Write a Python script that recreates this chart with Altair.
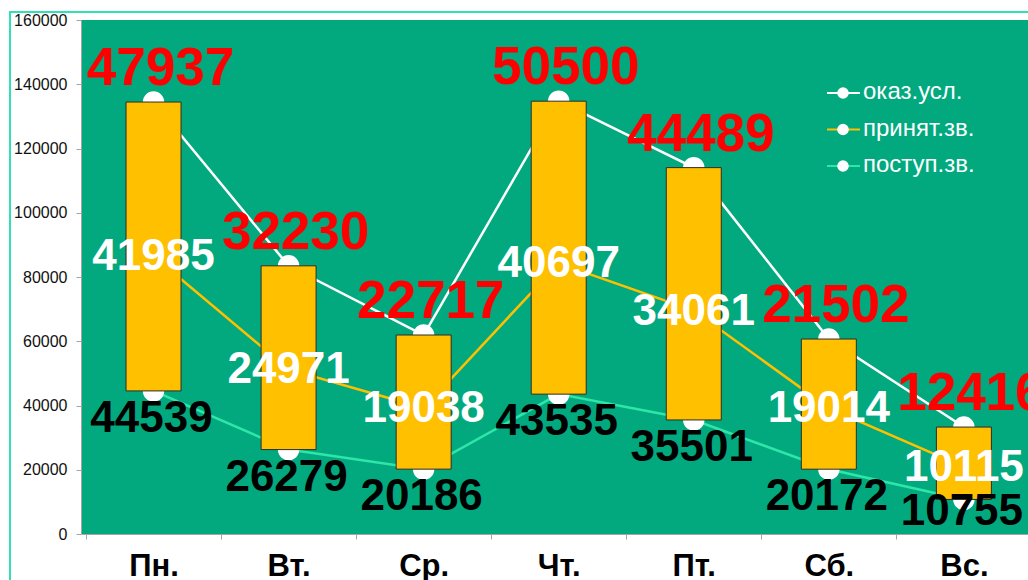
import altair as alt
import pandas as pd

FONT = "Liberation Sans"

days = ["Пн.", "Вт.", "Ср.", "Чт.", "Пт.", "Сб.", "Вс."]
series_names = ["оказ.усл.", "принят.зв.", "поступ.зв."]
series_colors = ["#FFFFFF", "#FFC000", "#2EE6A8"]

# Daily counts; the series are stacked bottom-up: поступ.зв., принят.зв., оказ.усл.
postup_zv = [44539, 26279, 20186, 43535, 35501, 20172, 10755]
prinyat_zv = [41985, 24971, 19038, 40697, 34061, 19014, 10115]
okaz_usl = [47937, 32230, 22717, 50500, 44489, 21502, 12416]

y_ticks = [0, 20000, 40000, 60000, 80000, 100000, 120000, 140000, 160000]

# Lowest level a bottom-series label is anchored at, so it stays above the axis
LABEL_FLOOR = 15500

# Long table with the running (stacked) level of every series
rows = []
for i, day in enumerate(days):
    running = 0
    for name, vals in [("поступ.зв.", postup_zv), ("принят.зв.", prinyat_zv), ("оказ.усл.", okaz_usl)]:
        running += vals[i]
        rows.append({"idx": i, "day": day, "series": name, "value": vals[i], "level": running})
long_df = pd.DataFrame(rows)

bottom = long_df[long_df.series == "поступ.зв."].set_index("idx")["level"]
top = long_df[long_df.series == "оказ.усл."].set_index("idx")["level"]
bars_df = pd.DataFrame({"idx": bottom.index, "low": bottom.values, "high": top.values})

# Plot area is 947 px wide, each day slot is 136.5 px; the last slot runs off the page
PLOT_W, PLOT_H = 947, 514
SLOT = 136.5
x_max = -0.5 + PLOT_W / SLOT

x_vals = sorted([i - 0.5 for i in range(len(days))] + list(range(len(days))))
day_array = "[" + ",".join(f"'{d}'" for d in days) + "]"

x_axis = alt.Axis(
    values=x_vals,
    labelExpr=f"datum.value % 1 === 0 ? {day_array}[datum.value] : ''",
    tickColor={"condition": {"test": "datum.value % 1 === 0", "value": "transparent"}, "value": "#A6A6A6"},
    grid=False,
    domainColor="#A6A6A6",
    tickSize=5,
    labelFont=FONT,
    labelFontSize=31,
    labelFontWeight="bold",
    labelColor="#000000",
    labelPadding=12,
    labelFlush=False,
    labelOverlap=False,
    title=None,
)
y_axis = alt.Axis(
    values=y_ticks,
    format="d",
    grid=False,
    domainColor="#A6A6A6",
    tickColor="#A6A6A6",
    tickSize=5,
    labelFont=FONT,
    labelFontSize=16,
    labelColor="#111111",
    labelPadding=9,
    title=None,
)

x_enc = alt.X("idx:Q", scale=alt.Scale(domain=[-0.5, x_max], nice=False, zero=False), axis=x_axis)
y_scale = alt.Scale(domain=[0, 160000], nice=False, zero=True)

base = alt.Chart(long_df)

lines = base.mark_line(strokeWidth=2.5).encode(
    x=x_enc,
    y=alt.Y("level:Q", scale=y_scale, axis=y_axis),
    color=alt.Color("series:N", scale=alt.Scale(domain=series_names, range=series_colors), legend=None),
)

points = base.mark_circle(size=460, color="#FFFFFF", opacity=1).encode(
    x=x_enc,
    y=alt.Y("level:Q", scale=y_scale, axis=y_axis),
)

bars = alt.Chart(bars_df).mark_bar(size=55, color="#FFC000", stroke="#2B2B2B", strokeWidth=1).encode(
    x=x_enc,
    y=alt.Y("low:Q", scale=y_scale, axis=y_axis),
    y2="high:Q",
)


def value_labels(name, color, size, dx, dy, floor=0):
    return base.transform_filter(alt.datum.series == name).transform_calculate(
        anchor=f"max(datum.level, {floor})"
    ).mark_text(
        font=FONT, fontSize=size, fontWeight="bold", color=color,
        align="center", baseline="middle", dx=dx, dy=dy,
    ).encode(
        x=x_enc,
        y=alt.Y("anchor:Q", scale=y_scale, axis=y_axis),
        text=alt.Text("value:Q", format="d"),
    )


red_labels = value_labels("оказ.усл.", "#FF0000", 53, 7, -33)
white_labels = value_labels("принят.зв.", "#FFFFFF", 44, 0, 1)
black_labels = value_labels("поступ.зв.", "#000000", 44, -2, 28, LABEL_FLOOR)

main = alt.layer(lines, points, bars, red_labels, white_labels, black_labels)

# Legend drawn inside the plot, top right
legend_df = pd.DataFrame({"series": series_names})
leg_y = alt.Y("series:N", scale=alt.Scale(type="point", domain=series_names, range=[73, 146], padding=0), axis=None)
leg_base = alt.Chart(legend_df)
leg_line = leg_base.mark_rule(strokeWidth=2).encode(
    x=alt.value(746), x2=alt.value(779), y=leg_y,
    color=alt.Color("series:N", scale=alt.Scale(domain=series_names, range=series_colors), legend=None),
)
leg_dot = leg_base.mark_circle(size=135, color="#FFFFFF", opacity=1).encode(x=alt.value(762), y=leg_y)
leg_text = leg_base.mark_text(
    font=FONT, fontSize=24, color="#FFFFFF", align="left", baseline="middle", dy=-1
).encode(x=alt.value(782), y=leg_y, text="series:N")

# Outer frame of the chart area
frame = alt.Chart(pd.DataFrame({"f": [0]})).mark_rect(
    fillOpacity=0, stroke="#33E0B5", strokeWidth=2
).encode(x=alt.value(-71), x2=alt.value(1200), y=alt.value(-8), y2=alt.value(800))

legend = alt.layer(frame, leg_line, leg_dot, leg_text)

chart = alt.layer(main, legend).resolve_scale(y="independent", color="independent").properties(
    width=PLOT_W,
    height=PLOT_H,
    padding={"left": 81, "top": 20, "right": 0, "bottom": 46},
    autosize=alt.AutoSizeParams(type="none"),
    background="#FFFFFF",
).configure_view(fill="#02A97F", strokeWidth=0)

chart.save("out.html", embed_options={"renderer": "svg", "actions": False})
